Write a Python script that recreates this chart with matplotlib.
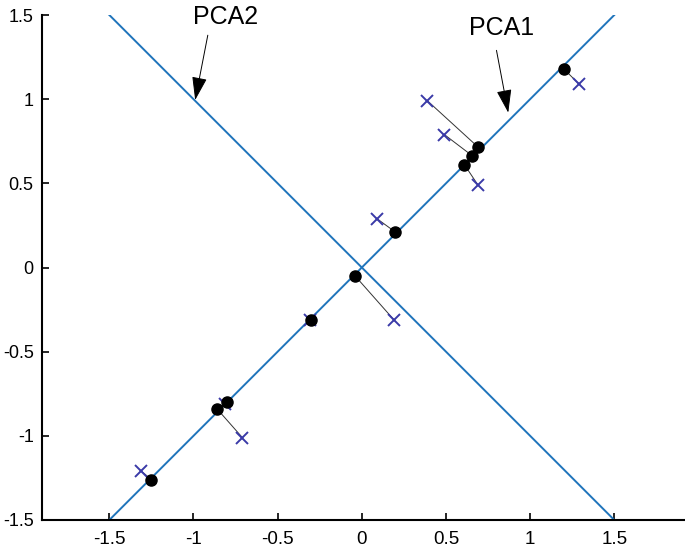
import numpy as np
import matplotlib
matplotlib.use('Agg')
import matplotlib.pyplot as plt

plt.rcParams['font.family'] = ['Liberation Sans', 'DejaVu Sans']
plt.rcParams['axes.unicode_minus'] = False

# données centrées (croix)
x_data = [0.69, -1.31, 0.39, 0.09, 1.29, 0.49, 0.19, -0.81, -0.31, -0.71]
y_data = [0.49, -1.21, 0.99, 0.29, 1.09, 0.79, -0.31, -0.81, -0.31, -1.01]

# projections sur PCA1 (points noirs)
x_proj = [0.61, -1.25, 0.69, 0.20, 1.20, 0.657, -0.04, -0.80, -0.30, -0.86]
y_proj = [0.61, -1.26, 0.716, 0.21, 1.18, 0.663, -0.05, -0.80, -0.31, -0.84]

# extrémités des axes principaux
pca1_x = [-1.5, 1.5]
pca1_y = [-1.5, 1.5]
pca2_x = [-1.5, 1.5]
pca2_y = [1.5, -1.5]

ticks = [-1.5, -1, -0.5, 0, 0.5, 1, 1.5]
tick_labels = ['-1.5', '-1', '-0.5', '0', '0.5', '1', '1.5']

fig = plt.figure(figsize=(6.85, 5.48), dpi=100)
ax = fig.add_axes([42 / 685, 1 - 520 / 548, 1 - 42 / 685, (520 - 15) / 548])

line_col = '#1f74bb'
ax.plot(pca1_x, pca1_y, color=line_col, lw=1.4, zorder=2)
ax.plot(pca2_x, pca2_y, color=line_col, lw=1.4, zorder=2)

# segments croix -> projection
for i in range(len(x_data)):
    ax.plot([x_data[i], x_proj[i]], [y_data[i], y_proj[i]], color='#333333', lw=0.7, zorder=3)

ax.plot(x_data, y_data, 'x', color='#3a3aa8', ms=8.5, mew=1.4, zorder=4)
ax.plot(x_proj, y_proj, 'o', color='black', ms=8, zorder=5)

arrow = dict(arrowstyle='-|>,head_length=1.45,head_width=0.47', color='black', lw=0.7,
             shrinkA=0, shrinkB=0, mutation_scale=10)
ax.annotate('', xy=(-0.99, 0.995), xytext=(-0.915, 1.38), arrowprops=arrow)
ax.annotate('', xy=(0.87, 0.92), xytext=(0.80, 1.29), arrowprops=arrow)
ax.text(-0.81, 1.49, 'PCA2', fontsize=18, ha='center', va='center')
ax.text(0.83, 1.42, 'PCA1', fontsize=18, ha='center', va='center')

ax.set_xlim(-1.9, 1.92)
ax.set_ylim(-1.5, 1.5)
ax.set_xticks(ticks)
ax.set_xticklabels(tick_labels, fontsize=13.5)
ax.set_yticks(ticks)
ax.set_yticklabels(tick_labels, fontsize=13)
ax.tick_params(direction='in', length=5, width=1.2)
ax.tick_params(axis='x', pad=8)
ax.tick_params(axis='y', pad=6)

ax.spines['top'].set_visible(False)
ax.spines['right'].set_visible(False)
ax.spines['left'].set_linewidth(1.5)
ax.spines['bottom'].set_linewidth(1.5)

fig.savefig('out.png', dpi=100)
